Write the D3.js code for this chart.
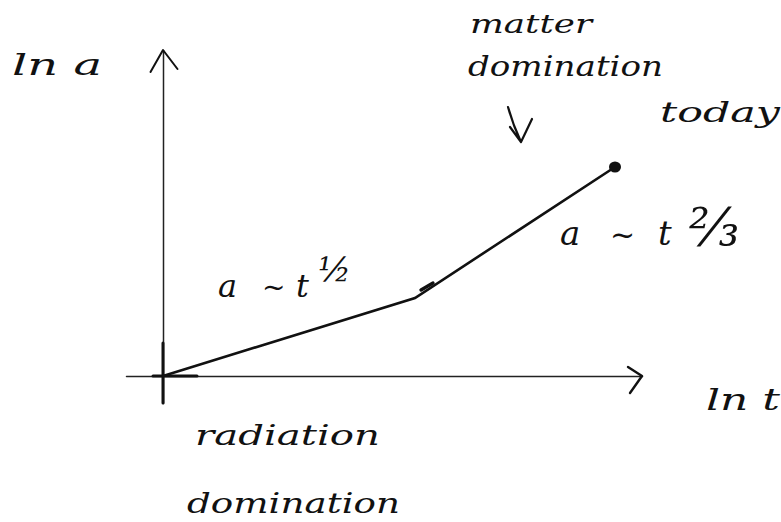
<!DOCTYPE html>
<html>
<head>
<meta charset="utf-8">
<script src="https://cdn.jsdelivr.net/npm/d3@7/dist/d3.min.js"></script>
<style>
  html, body { margin: 0; padding: 0; background: #fff; }
  svg { display: block; }
  text { font-family: "DejaVu Serif", serif; font-style: italic; fill: #111; }
</style>
</head>
<body>
<svg id="chart" width="781" height="522"></svg>
<script>
// ---- data (sketch of ln a versus ln t) ----
const phases   = ["start", "matter-radiation equality", "today"];
const lnT      = [0, 5.04, 9.04];
const lnA      = [0, 1.56, 4.18];
const axisTExtent = [-0.74, 9.58];   // drawn extent of the ln t axis
const axisAExtent = [-0.54, 6.52];   // drawn extent of the ln a axis

const svg = d3.select("#chart");
const ink = "#111";

// scales: origin of the sketch at (163, 376), 50 px per unit
const x = d3.scaleLinear().domain([0, 10]).range([163, 663]);
const y = d3.scaleLinear().domain([0, 10]).range([376, -124]);

// ---- axes (domain lines only, no ticks) ----
const xAxisScale = x.copy().domain(axisTExtent).range(axisTExtent.map(x));
const yAxisScale = y.copy().domain(axisAExtent).range(axisAExtent.map(y));

const gx = svg.append("g").attr("transform", `translate(0,${y(0)})`)
  .call(d3.axisBottom(xAxisScale).tickValues([]).tickSizeOuter(0));
const gy = svg.append("g").attr("transform", `translate(${x(0)},0)`)
  .call(d3.axisLeft(yAxisScale).tickValues([]).tickSizeOuter(0));
[gx, gy].forEach(g => g.select(".domain")
  .attr("stroke", "#222").attr("stroke-width", 1.5).attr("stroke-linecap", "round"));

const line = d3.line().x(d => x(d[0])).y(d => y(d[1]));
const stroke = (sel, w) => sel.attr("stroke", ink).attr("stroke-width", w).attr("fill", "none")
  .attr("stroke-linecap", "round").attr("stroke-linejoin", "round");

// thicker pen strokes around the origin
stroke(svg.append("path").attr("d", line([[0, -0.54], [0, 0.66]])), 3);
stroke(svg.append("path").attr("d", line([[-0.2, 0], [0.68, 0]])), 3);

// arrowheads
const tipY = [0, axisAExtent[1]];
stroke(svg.append("path")
  .attr("d", line([[tipY[0] - 0.25, tipY[1] - 0.44], tipY, [tipY[0] + 0.29, tipY[1] - 0.38]])), 2);
const tipX = [axisTExtent[1], 0];
stroke(svg.append("path")
  .attr("d", line([[tipX[0] - 0.28, 0.18], tipX, [tipX[0] - 0.24, -0.34]])), 2.4);

// ---- the evolution curve ----
const pts = lnT.map((t, i) => [t, lnA[i]]);
svg.append("path").attr("d", line(pts))
  .attr("stroke", ink).attr("stroke-width", 2.6).attr("fill", "none")
  .attr("stroke-linejoin", "miter").attr("stroke-linecap", "round");

// small barb near the kink
stroke(svg.append("path")
  .attr("d", line([[lnT[1] + 0.12, lnA[1] + 0.16], [lnT[1] + 0.36, lnA[1] + 0.3]])), 3.4);

// today dot
svg.append("ellipse")
  .attr("cx", x(lnT[2])).attr("cy", y(lnA[2]))
  .attr("rx", 6).attr("ry", 5.5).attr("fill", ink);

// ---- hand-drawn arrow from "matter domination" ----
const arrowPath = d3.path();
arrowPath.moveTo(508, 107);
arrowPath.quadraticCurveTo(513, 125, 521, 142);
arrowPath.moveTo(510, 127);
arrowPath.lineTo(521, 142);
arrowPath.lineTo(532, 119);
stroke(svg.append("path").attr("d", arrowPath.toString()), 2.2);

// ---- labels ----
function label(txt, px, py, size, len) {
  const t = svg.append("text").attr("x", px).attr("y", py)
    .attr("font-size", size).text(txt);
  if (len) t.attr("textLength", len).attr("lengthAdjust", "spacingAndGlyphs");
  return t;
}
label("ln a", 12, 75, 29, 90);
label("matter", 470, 33, 26, 122);
label("domination", 468, 76, 28, 195);
label("today", 660, 122, 28, 120);
label("ln t", 706, 410, 29, 74);
label("radiation", 195, 445, 28, 185);
label("domination", 187, 513, 28, 213);

// power-law labels, each as one text with positioned pieces
function powerLabel(parts, py) {
  const t = svg.append("text").attr("y", py);
  parts.forEach(p => {
    t.append("tspan").attr("x", p.x).attr("y", p.y ?? py)
      .attr("font-size", p.size).text(p.s);
  });
}
powerLabel([
  { s: "a", x: 218, size: 32 },
  { s: "~", x: 262, size: 28 },
  { s: "t", x: 296, size: 32 },
  { s: "\u00BD", x: 318, y: 281, size: 34 }
], 297);
powerLabel([
  { s: "a", x: 560, size: 34 },
  { s: "~", x: 610, size: 30 },
  { s: "t", x: 658, size: 34 },
  { s: "\u2154", x: 689, y: 245, size: 52 }
], 245);
</script>
</body>
</html>
